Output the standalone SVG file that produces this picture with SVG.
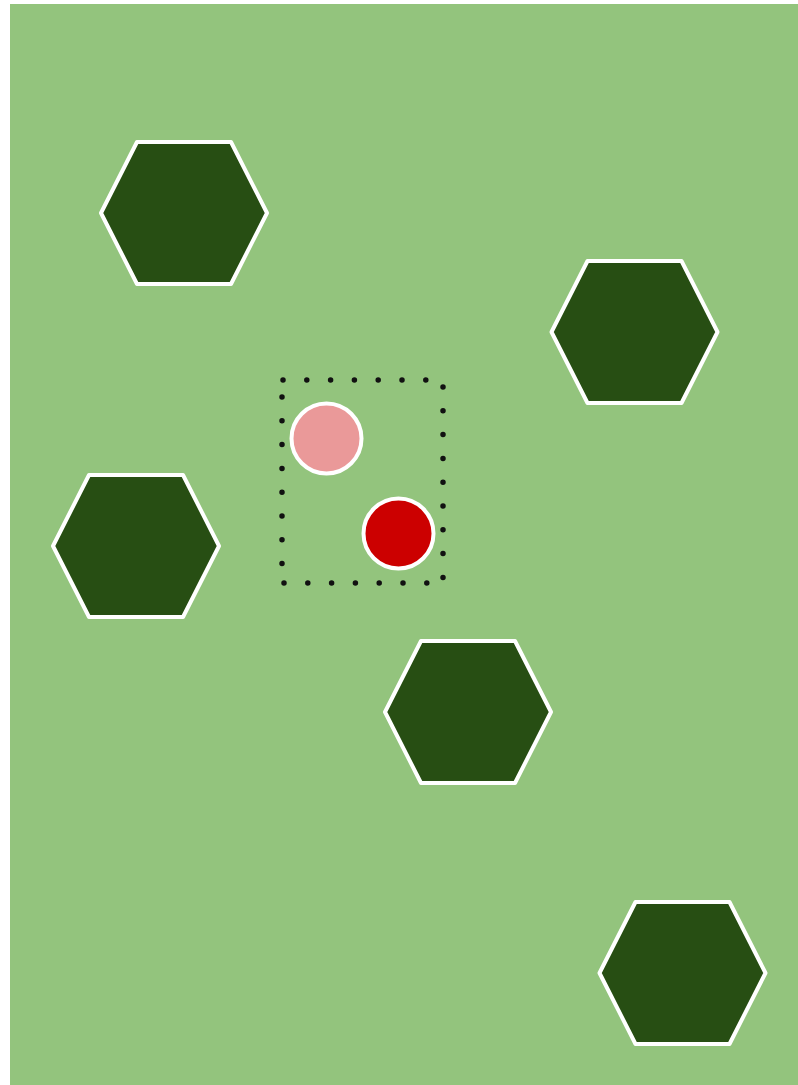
<svg xmlns="http://www.w3.org/2000/svg" width="798" height="1085" viewBox="0 0 798 1085">
<defs>
<style>
.hex{fill:#274e13;stroke:#ffffff;stroke-width:4;stroke-linejoin:round}
.dot{fill:none;stroke:#111111;stroke-width:5.5;stroke-dasharray:0 23.8;stroke-linecap:round}
.disc{stroke:#ffffff;stroke-width:4}
</style>
<polygon id="hexshape" class="hex" points="-83,0 -47,-71 47,-71 83,0 47,71 -47,71"/>
</defs>
<rect x="0" y="0" width="798" height="1085" fill="#ffffff"/>
<rect id="ground" x="10" y="4" width="788" height="1081" fill="#93c47d"/>
<g id="hex1"><use href="#hexshape" x="184" y="213"/></g>
<g id="hex2"><use href="#hexshape" x="634.5" y="332"/></g>
<g id="hex3"><use href="#hexshape" x="136" y="546"/></g>
<g id="hex4"><use href="#hexshape" x="468" y="712"/></g>
<g id="hex5"><use href="#hexshape" x="682.5" y="973"/></g>
<g id="selection">
<path class="dot" d="M283,380 H430"/>
<path class="dot" d="M443,387 V582"/>
<path class="dot" d="M282,397 V567"/>
<path class="dot" d="M284,583 H431"/>
</g>
<g id="pink"><circle class="disc" cx="326.5" cy="438.5" r="35" fill="#ea9999"/></g>
<g id="red"><circle class="disc" cx="398.5" cy="533.5" r="35" fill="#cc0000"/></g>
</svg>
